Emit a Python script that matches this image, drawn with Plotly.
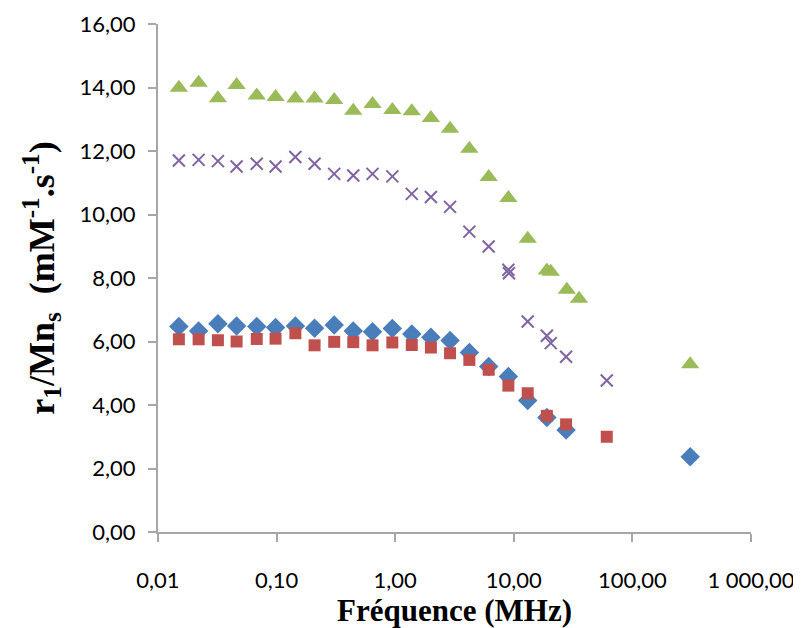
import plotly.graph_objects as go

# Frequencies (MHz)
freq_low = [0.015, 0.022, 0.032, 0.046, 0.068, 0.098, 0.144, 0.209, 0.306,
            0.443, 0.644, 0.946, 1.38, 2.0, 2.9]

# Series 1 (blue diamonds)
blue_x = freq_low + [4.22, 6.14, 9.0, 13.1, 19.0, 27.6, 307]
blue_y = [6.47, 6.33, 6.56, 6.49, 6.47, 6.44, 6.49, 6.42, 6.52, 6.33, 6.31,
          6.41, 6.24, 6.13, 6.03, 5.65, 5.21, 4.90, 4.14, 3.61, 3.21, 2.37]

# Series 2 (red squares)
red_x = freq_low + [4.22, 6.14, 9.0, 13.1, 19.0, 27.6, 60.8]
red_y = [6.07, 6.07, 6.04, 6.00, 6.08, 6.09, 6.26, 5.88, 5.99, 5.98, 5.88,
         5.97, 5.89, 5.81, 5.63, 5.42, 5.11, 4.61, 4.37, 3.66, 3.39, 3.00]

# Series 3 (green triangles)
green_x = freq_low + [4.22, 6.14, 9.0, 13.1, 19.0, 20.5, 28.0, 35.5, 307]
green_y = [13.99, 14.15, 13.66, 14.08, 13.75, 13.70, 13.65, 13.65, 13.61,
           13.27, 13.48, 13.29, 13.25, 13.04, 12.70, 12.07, 11.18, 10.52,
           9.24, 8.24, 8.20, 7.63, 7.35, 5.28]

# Series 4 (purple crosses)
purple_x = freq_low + [4.22, 6.14, 9.0, 9.1, 13.1, 19.0, 20.5, 27.6, 60.8]
purple_y = [11.70, 11.72, 11.68, 11.51, 11.60, 11.51, 11.81, 11.60, 11.28,
            11.23, 11.28, 11.20, 10.65, 10.55, 10.24, 9.46, 8.99, 8.26, 8.15,
            6.63, 6.18, 5.95, 5.52, 4.77]

x_tickvals = [0.01, 0.1, 1, 10, 100, 1000]
x_ticktext = ["0,01", "0,10", "1,00", "10,00", "100,00", "1 000,00"]
y_tickvals = [0, 2, 4, 6, 8, 10, 12, 14, 16]
y_ticktext = ["0,00", "2,00", "4,00", "6,00", "8,00", "10,00", "12,00", "14,00", "16,00"]

fig = go.Figure()
fig.add_trace(go.Scatter(x=blue_x, y=blue_y, mode="markers",
                         marker=dict(symbol="diamond", size=15, color="#4A7EBB",
                                     line=dict(width=0))))
fig.add_trace(go.Scatter(x=red_x, y=red_y, mode="markers",
                         marker=dict(symbol="square", size=12, color="#C0504D",
                                     line=dict(width=0))))
fig.add_trace(go.Scatter(x=green_x, y=green_y, mode="markers",
                         marker=dict(symbol="triangle-up", size=16, color="#9BBB59",
                                     line=dict(width=0))))
fig.add_trace(go.Scatter(x=purple_x, y=purple_y, mode="markers",
                         marker=dict(symbol="x-thin", size=12, color="#8064A2",
                                     line=dict(width=2, color="#8064A2"))))

axis_color = "#A6A6A6"
tick_font = dict(family="Lato", size=22, color="black")
xtitle_font = dict(family="Liberation Serif", size=31, color="black", weight="bold")
ytitle_font = dict(family="Liberation Serif", size=36, color="black", weight="bold")
fig.update_layout(
    width=801, height=628,
    margin=dict(l=150, r=58, t=16, b=104),
    paper_bgcolor="white", plot_bgcolor="white",
    showlegend=False,
    font=dict(family="Lato", size=22, color="black"),
    xaxis=dict(type="log", range=[-2, 3], tickvals=x_tickvals, ticktext=x_ticktext,
               automargin=False,
               showgrid=False, zeroline=False, showline=True, linecolor=axis_color,
               linewidth=2, ticks="outside", tickcolor=axis_color, ticklen=8,
               tickwidth=2, tickfont=tick_font, ticklabelstandoff=20,
               title=dict(text="Fréquence (MHz)", font=xtitle_font, standoff=3)),
    yaxis=dict(range=[0, 16], tickvals=y_tickvals, ticktext=y_ticktext,
               automargin=False,
               showgrid=False, zeroline=False, showline=True, linecolor=axis_color,
               linewidth=2, ticks="outside", tickcolor=axis_color, ticklen=8,
               tickwidth=2, tickfont=tick_font, ticklabelstandoff=8,
               title=dict(text="r<sub>1</sub>/Mn<sub>s</sub>  (mM<sup>-1</sup>.s<sup>-1</sup>)",
                          font=ytitle_font, standoff=14)),
)
fig.write_html("out.html")
